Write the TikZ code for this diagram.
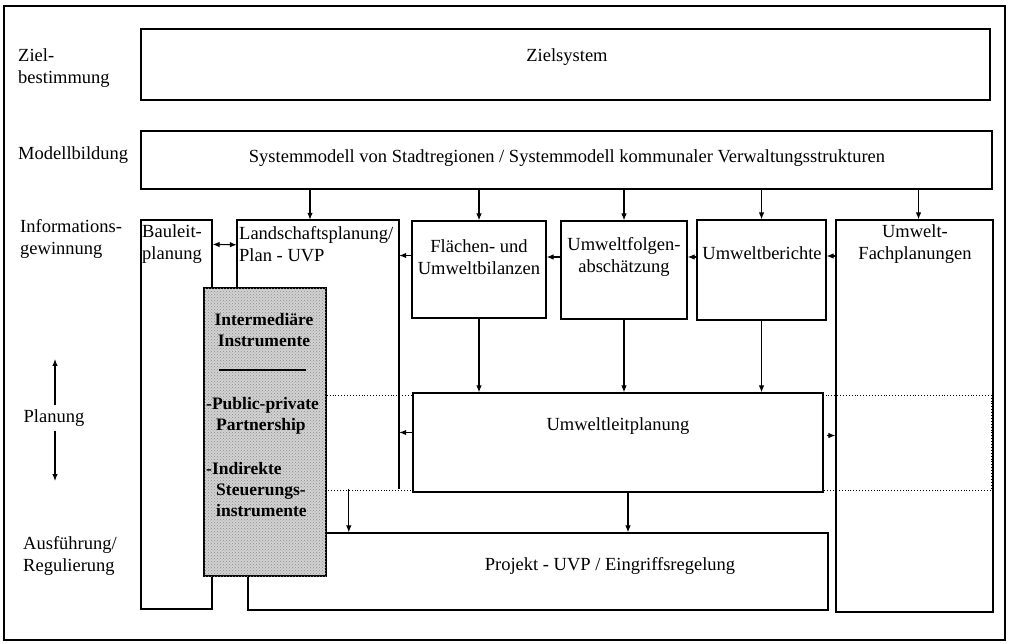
\documentclass[tikz,border=0pt]{standalone}
\usepackage{fontspec}
\setmainfont{Liberation Serif}
\usetikzlibrary{arrows.meta,calc,patterns}
\begin{document}
\begin{tikzpicture}[x=1pt,y=-1pt,
  bx/.style={draw, line width=1.2pt, rectangle, inner sep=0pt},
  txt/.style={font=\fontsize{18.5}{22}\selectfont, inner sep=0pt},
  btxt/.style={font=\fontsize{17.5}{21}\selectfont\bfseries, inner sep=0pt},
  arr/.style={-{Latex[length=7pt,width=5.5pt]}, line width=1.1pt},
  darr/.style={{Latex[length=7pt,width=5.5pt]}-{Latex[length=7pt,width=5.5pt]}, line width=1.1pt},
  band/.style={dotted, line width=0.9pt}]
\useasboundingbox (0,0) rectangle (1010,644);
% frame
\node[bx, line width=1.4pt, minimum width=1001, minimum height=634] (frame) at (504.5,323) {};
% boxes
\node[bx, minimum width=849, minimum height=71] (ziel) at (565.5,64.5) {};
\node[bx, minimum width=851, minimum height=58] (sys) at (566.5,160) {};
\node[bx, minimum width=71, minimum height=389] (bau) at (176.5,414.5) {};
\node[rectangle, inner sep=0pt, minimum width=162, minimum height=269] (land) at (318,354.5) {};
\draw[line width=1.5pt] (land.south west) -- (land.north west) -- (land.north east) -- (land.south east);
\node[bx, minimum width=580, minimum height=77] (proj) at (538,571.5) {};
\node[bx, minimum width=157, minimum height=392] (fach) at (914.5,416) {};
\node[bx, minimum width=134, minimum height=97] (flach) at (479,269.5) {};
\node[bx, minimum width=126, minimum height=98] (folg) at (624,270) {};
\node[bx, minimum width=129, minimum height=100] (ber) at (761.5,270) {};
% dotted planning band
\coordinate (bandNE) at (991,395);
\coordinate (bandSE) at (991,490);
\draw[band] (land.south west |- bandNE) -- (bandNE) -- (bandSE) -- (land.south west |- bandSE);
\node[bx, fill=white, minimum width=410, minimum height=99] (leit) at (618,442.5) {};
% intermediate instruments
\node[bx, line width=1.6pt, fill=gray!35, postaction={pattern=crosshatch dots, pattern color=black!45},
      minimum width=122, minimum height=288] (inter) at (265,432) {};

% row labels
\node[txt, align=left, anchor=west] (lz) at (18,68) {Ziel-\\bestimmung};
\node[txt, anchor=west] (lm) at (18,155) {Modellbildung};
\node[txt, align=left, anchor=west] (li) at (20,239) {Informations-\\gewinnung};
\node[txt, inner sep=4pt] (lp) at (54,418) {Planung};
\coordinate (pu) at (55,359);
\coordinate (pd) at (55,481);
\node[txt, align=left, anchor=west] (la) at (23,556) {Ausführung/\\Regulierung};

% box texts
\node[txt] (tziel) at (567,57) {Zielsystem};
\node[txt] (tsys) at (567,158) {Systemmodell von Stadtregionen / Systemmodell kommunaler Verwaltungsstrukturen};
\node[txt, align=left, anchor=west] (tbau) at (142,244) {Bauleit-\\planung};
\node[txt, align=left, anchor=west] (tland) at (239,244) {Landschaftsplanung/\\Plan - UVP};
\node[txt, align=center] (tflach) at (479,257) {Flächen- und\\Umweltbilanzen};
\node[txt, align=center] (tfolg) at (624,257) {Umweltfolgen-\\abschätzung};
\node[txt] (tber) at (762,253) {Umweltberichte};
\node[txt, align=center] (tfach) at (915,244) {Umwelt-\\Fachplanungen};
\node[txt] (tleit) at (618,426) {Umweltleitplanung};
\node[txt] (tproj) at (610,566) {Projekt - UVP / Eingriffsregelung};

% intermediate texts
\node[btxt, align=center] (ti1) at (264,330) {Intermediäre\\Instrumente};
\coordinate (rl) at (219,370);
\coordinate (rr) at (306,370);
\draw[line width=1.1pt] (rl) -- (rr);
\node[btxt, align=left, anchor=west] (ti2) at (206,416) {-Public-private\\\hspace*{10pt}Partnership};
\node[btxt, align=left, anchor=west] (ti3) at (206,490) {-Indirekte\\\hspace*{10pt}Steuerungs-\\\hspace*{10pt}instrumente};

% arrows from Systemmodell
\draw[arr] ($(land.north|-sys.south)+(-8,0)$) -- ($(land.north)+(-8,0)$);
\draw[arr] (flach.north|-sys.south) -- (flach.north);
\draw[arr] (folg.north|-sys.south) -- (folg.north);
\draw[arr] (ber.north|-sys.south) -- (ber.north);
\draw[arr] ($(fach.north|-sys.south)+(4,0)$) -- ($(fach.north)+(4,0)$);

% horizontal arrows in information row
\draw[darr] ($(bau.north east)+(0,25)$) -- ($(land.north west)+(0,25)$);
\draw[arr] ($(fach.west|-ber.east)+(0,-14)$) -- ($(ber.east)+(0,-14)$);
\draw[arr] ($(ber.west)+(0,-13)$) -- ($(folg.east|-ber.west)+(0,-13)$);
\draw[arr] ($(folg.west)+(0,-13)$) -- ($(flach.east|-folg.west)+(0,-13)$);
\draw[arr] ($(flach.west)+(0,-14)$) -- ($(land.east|-flach.west)+(0,-14)$);

% arrows down to Umweltleitplanung
\draw[arr] (flach.south) -- (flach.south|-leit.north);
\draw[arr] (folg.south) -- (folg.south|-leit.north);
\draw[arr] (ber.south) -- (ber.south|-leit.north);

% arrows from Umweltleitplanung
\draw[arr] ($(leit.west)+(0,-10)$) -- ($(land.east|-leit.west)+(0,-10)$);
\draw[arr] ($(leit.east)+(3,-7)$) -- ($(fach.west|-leit.east)+(0,-7)$);
\draw[arr] ($(leit.south)+(10,0)$) -- ($(leit.south|-proj.north)+(10,0)$);
\draw[arr] ($(land.south west)+(112,0)$) -- ($(land.south west|-proj.north)+(112,0)$);

% Planung arrows
\draw[arr] (lp.north-|pu) -- (pu);
\draw[arr] (lp.south-|pd) -- (pd);
\end{tikzpicture}
\end{document}
